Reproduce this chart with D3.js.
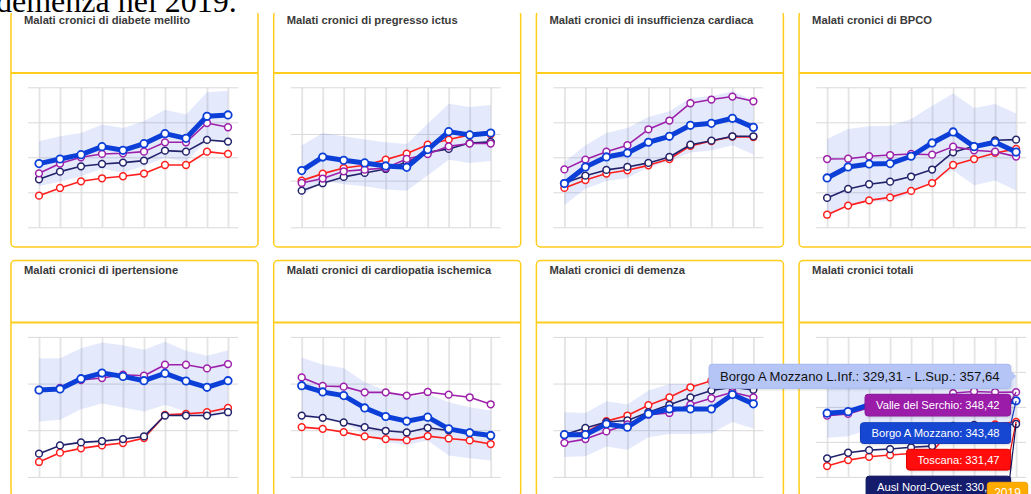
<!DOCTYPE html>
<html><head><meta charset="utf-8">
<script src="https://cdn.jsdelivr.net/npm/d3@7"></script>
<style>html,body{margin:0;padding:0;background:#fff;overflow:hidden}</style>
</head><body>
<svg id="c" width="1031" height="494"></svg>
<script>
// ---------------- DATA ----------------
const years = [2010, 2011, 2012, 2013, 2014, 2015, 2016, 2017, 2018, 2019];
const chartTitles = [
  "Malati cronici di diabete mellito",
  "Malati cronici di pregresso ictus",
  "Malati cronici di insufficienza cardiaca",
  "Malati cronici di BPCO",
  "Malati cronici di ipertensione",
  "Malati cronici di cardiopatia ischemica",
  "Malati cronici di demenza",
  "Malati cronici totali"
];
const seriesNames = ["Toscana", "Ausl Nord-Ovest", "Valle del Serchio", "Borgo A Mozzano"];
const yTicks = [
  [50, 55, 60, 65, 70],
  [10, 12, 14, 16],
  [8, 10, 12, 14, 16],
  [16, 18, 20, 22, 24],
  [200, 220, 240, 260],
  [30, 35, 40, 45],
  [8, 10, 12, 14],
  [300, 320, 340, 360, 380]
];
const borgoMozzano = [
  [59.10, 59.76, 60.38, 61.52, 61.00, 61.95, 63.38, 62.71, 65.86, 66.05],
  [12.43, 13.01, 12.87, 12.76, 12.63, 12.57, 13.33, 14.10, 13.96, 14.04],
  [10.50, 11.45, 12.02, 12.25, 12.86, 13.20, 13.83, 13.94, 14.23, 13.71],
  [18.82, 19.45, 19.62, 19.64, 20.06, 20.82, 21.45, 20.61, 20.86, 20.30],
  [237.25, 237.68, 242.08, 244.50, 243.08, 241.23, 244.36, 241.09, 238.39, 241.23],
  [39.77, 39.10, 38.71, 37.39, 36.47, 35.97, 36.40, 35.15, 34.73, 34.44],
  [9.81, 9.81, 10.27, 10.13, 10.70, 10.91, 10.91, 10.91, 11.53, 11.13],
  [336.4, 337.3, 341.2, 343.5, 343.0, 342.0, 345.0, 343.0, 341.5, 343.48]
];
const valleSerchio = [
  [57.71, 59.10, 60.00, 60.48, 60.57, 60.81, 62.14, 62.14, 64.90, 64.29],
  [11.90, 12.09, 12.40, 12.47, 12.54, 12.93, 13.14, 13.47, 13.59, 13.59],
  [11.31, 11.87, 12.32, 12.69, 13.60, 14.10, 15.09, 15.30, 15.47, 15.20],
  [19.90, 19.92, 20.06, 20.13, 20.19, 20.15, 20.61, 20.40, 20.32, 20.04],
  [237.25, 238.10, 241.52, 242.37, 243.79, 243.36, 248.06, 248.06, 246.49, 248.34],
  [40.66, 39.74, 39.67, 39.06, 39.06, 38.71, 39.10, 38.81, 38.53, 37.78],
  [9.46, 9.62, 9.95, 10.25, 10.67, 10.74, 11.10, 11.37, 11.63, 11.41],
  [335.0, 336.0, 339.5, 340.5, 342.0, 342.0, 347.9, 348.8, 348.4, 348.42]
];
const auslNordOvest = [
  [56.86, 57.95, 58.71, 59.05, 59.24, 59.52, 60.95, 60.81, 62.48, 62.24],
  [11.57, 11.89, 12.16, 12.33, 12.50, 12.79, 13.21, 13.36, 13.61, 13.66],
  [10.53, 10.95, 11.28, 11.45, 11.68, 12.02, 12.72, 12.95, 13.20, 13.20],
  [17.68, 18.19, 18.46, 18.61, 18.90, 19.30, 20.29, 20.63, 20.97, 21.01],
  [209.95, 213.50, 214.78, 215.35, 216.21, 217.34, 226.30, 226.30, 226.30, 227.72],
  [36.57, 36.33, 35.83, 35.33, 34.94, 34.76, 35.26, 34.98, 34.73, 34.37],
  [9.81, 10.10, 10.35, 10.42, 10.77, 11.09, 11.41, 11.70, 11.84, 11.73],
  [310.6, 313.8, 315.3, 315.9, 316.9, 317.6, 329.1, 329.7, 329.1, 330.22]
];
const toscana = [
  [54.52, 55.62, 56.57, 57.00, 57.29, 57.67, 58.90, 58.90, 60.81, 60.48],
  [12.00, 12.30, 12.54, 12.66, 12.90, 13.16, 13.54, 13.76, 13.96, 13.99],
  [10.25, 10.70, 11.07, 11.26, 11.54, 11.90, 12.65, 12.93, 13.18, 13.16],
  [16.72, 17.24, 17.54, 17.71, 18.08, 18.53, 19.56, 19.90, 20.25, 20.48],
  [206.40, 210.38, 212.23, 213.50, 214.50, 216.63, 226.59, 227.01, 227.72, 229.57],
  [35.33, 35.15, 34.80, 34.34, 34.05, 33.94, 34.37, 34.12, 33.91, 33.52],
  [9.78, 9.92, 10.39, 10.63, 11.07, 11.41, 11.84, 12.12, 12.38, 12.19],
  [306.2, 309.6, 311.5, 312.5, 313.4, 314.2, 328.5, 329.5, 330.0, 331.47]
];
const borgoLimSup = [
  [62.29, 63.00, 63.48, 64.67, 64.19, 65.14, 66.81, 66.10, 69.29, 69.52],
  [13.51, 14.04, 13.90, 13.76, 13.64, 13.57, 14.44, 15.30, 15.16, 15.24],
  [11.73, 12.69, 13.39, 13.68, 14.30, 14.63, 15.39, 15.49, 15.77, 15.26],
  [21.05, 21.62, 21.77, 21.81, 22.19, 22.95, 23.64, 22.82, 23.05, 22.50],
  [250.76, 250.90, 255.17, 257.58, 256.45, 254.45, 257.87, 254.03, 251.90, 254.31],
  [42.80, 42.01, 41.66, 40.13, 39.24, 38.53, 38.89, 38.00, 37.46, 37.11],
  [10.77, 10.74, 11.24, 11.10, 11.70, 11.98, 11.98, 11.95, 12.71, 12.19],
  [350.4, 351.3, 355.2, 357.5, 357.0, 356.0, 359.0, 357.0, 355.6, 357.64]
];
const borgoLimInf = [
  [55.91, 56.52, 57.28, 58.37, 57.81, 58.76, 59.95, 59.32, 62.43, 62.58],
  [11.35, 11.98, 11.84, 11.76, 11.62, 11.57, 12.22, 12.90, 12.76, 12.84],
  [9.27, 10.21, 10.65, 10.82, 11.42, 11.77, 12.27, 12.39, 12.69, 12.16],
  [16.59, 17.28, 17.47, 17.47, 17.93, 18.69, 19.26, 18.40, 18.67, 18.10],
  [223.74, 224.46, 228.99, 231.42, 229.71, 228.01, 230.85, 228.15, 224.88, 228.15],
  [36.74, 36.19, 35.76, 34.65, 33.70, 33.41, 33.91, 32.30, 32.00, 31.77],
  [8.85, 8.88, 9.30, 9.16, 9.70, 9.84, 9.84, 9.87, 10.35, 10.07],
  [322.4, 323.3, 327.2, 329.5, 329.0, 328.0, 331.0, 329.0, 327.4, 329.31]
];
const pageText = "demenza nel 2019.";
const hoverChart = 7;
const hoverYearIndex = 9;

// ---------------- LAYOUT / STYLE ----------------
const colX = [11, 273.7, 536.4, 799.1];
const rowY = [11, 260.6];
const panelW = 247, panelH = 236, headerH = 62;
const plotTop = 76.3, plotH = 140;
const gridL = 17, gridR = 227, ptL = 28, ptR = 217;
const yellow = "#ffcd1c";
const colors = ["#ff1f1f", "#22236b", "#9d20aa", "#0c3fd8"];

const svg = d3.select("#c");
const fmt = v => v.toFixed(2).replace(".", ",");

const scalesByChart = [];
const seriesData = [toscana, auslNordOvest, valleSerchio, borgoMozzano];

chartTitles.forEach((title, i) => {
  const px = colX[i % 4], py = rowY[Math.floor(i / 4)];
  const g = svg.append("g").attr("transform", `translate(${px},${py})`);
  g.append("rect").attr("x", 0).attr("y", 0).attr("width", panelW).attr("height", panelH)
    .attr("rx", 4).attr("fill", "#fff").attr("stroke", yellow).attr("stroke-width", 1.5);
  g.append("line").attr("x1", 0).attr("x2", panelW).attr("y1", headerH).attr("y2", headerH)
    .attr("stroke", yellow).attr("stroke-width", 2);
  g.append("text").attr("x", 13).attr("y", 13.3).text(title)
    .attr("font-family", "Liberation Sans, Arial, sans-serif").attr("font-size", "11.2px")
    .attr("font-weight", "bold").attr("fill", "#3a3a3a");

  const x = d3.scalePoint().domain(years).range([ptL, ptR]);
  const ticks = yTicks[i];
  const y = d3.scaleLinear().domain([ticks[0], ticks[ticks.length - 1]]).range([plotTop + plotH, plotTop]);
  scalesByChart.push({x, y, px, py});

  // grid via axes
  const gx = g.append("g").attr("transform", `translate(0,${plotTop + plotH})`)
    .call(d3.axisBottom(x).tickSize(-plotH).tickFormat(""));
  gx.select(".domain").remove();
  gx.selectAll(".tick line").attr("stroke", "#e4e4e4").attr("stroke-width", 1.8);
  const gy = g.append("g").attr("transform", `translate(${gridL},0)`)
    .call(d3.axisLeft(y).tickValues(ticks).tickSize(-(gridR - gridL)).tickFormat(""));
  gy.select(".domain").remove();
  gy.selectAll(".tick line").attr("stroke", "#d9d9d9").attr("stroke-width", 1);

  // band
  const area = d3.area().x((d, k) => x(years[k])).y0((d, k) => y(borgoLimInf[i][k])).y1(d => y(d));
  g.append("path").datum(borgoLimSup[i]).attr("d", area)
    .attr("fill", "rgb(40,90,230)").attr("fill-opacity", 0.125);

  seriesData.forEach((s, si) => {
    const vals = s[i];
    const line = d3.line().x((d, k) => x(years[k])).y(d => y(d));
    const thick = si === 3;
    g.append("path").datum(vals).attr("d", line).attr("fill", "none")
      .attr("stroke", colors[si]).attr("stroke-width", thick ? 5 : 1.6)
      .attr("stroke-linejoin", "round");
    g.selectAll(null).data(vals).enter().append("circle")
      .attr("cx", (d, k) => x(years[k])).attr("cy", d => y(d))
      .attr("r", thick ? 3.7 : 3.4).attr("fill", "#fff")
      .attr("stroke", colors[si]).attr("stroke-width", thick ? 1.8 : 1.5);
  });
});

// ---------------- PAGE TEXT ABOVE ----------------
svg.append("rect").attr("x", 0).attr("y", 0).attr("width", 1031).attr("height", 13).attr("fill", "#fff");
svg.append("text").attr("x", -4).attr("y", 12).text(pageText)
  .attr("font-family", "Liberation Serif, Times New Roman, serif").attr("font-size", "32px").attr("fill", "#000");

// ---------------- TOOLTIP (split) ----------------
const defs = svg.append("defs");
const f = defs.append("filter").attr("id", "sh").attr("x", "-10%").attr("y", "-30%").attr("width", "120%").attr("height", "160%");
f.append("feDropShadow").attr("dx", 1).attr("dy", 1).attr("stdDeviation", 1).attr("flood-color", "#000").attr("flood-opacity", 0.15);

const hs = scalesByChart[hoverChart];
const ax = hs.px + hs.x(years[hoverYearIndex]);
const ayOf = v => hs.py + hs.y(v);
const hi = hoverYearIndex, hc = hoverChart;
const tips = [
  {text: `${seriesNames[3]} L.Inf.: ${fmt(borgoLimInf[hc][hi])} - L.Sup.: ${fmt(borgoLimSup[hc][hi])}`,
   anchor: ayOf(borgoLimSup[hc][hi]), top: 364.3, h: 24, fill: "#b5c5f6", stroke: "#a6b8f2", color: "#111", size: 13.1},
  {text: `${seriesNames[2]}: ${fmt(valleSerchio[hc][hi])}`, anchor: ayOf(valleSerchio[hc][hi]),
   top: 394.3, h: 21.7, fill: "#9b1fa9", stroke: "#8a1a98", color: "#fff", size: 11.2},
  {text: `${seriesNames[3]}: ${fmt(borgoMozzano[hc][hi])}`, anchor: ayOf(borgoMozzano[hc][hi]),
   top: 422.7, h: 20.8, fill: "#1747d3", stroke: "#123cba", color: "#fff", size: 11.2},
  {text: `${seriesNames[0]}: ${fmt(toscana[hc][hi])}`, anchor: ayOf(toscana[hc][hi]),
   top: 449.3, h: 20.8, fill: "#ff0b0b", stroke: "#e00000", color: "#fff", size: 11.2},
  {text: `${seriesNames[1]}: ${fmt(auslNordOvest[hc][hi])}`, anchor: ayOf(auslNordOvest[hc][hi]),
   top: 476.2, h: 22, fill: "#171a6c", stroke: "#10125a", color: "#fff", size: 11.2}
];
const rightEdge = ax - 5.5;
const tg = svg.append("g");
tips.forEach(t => {
  const g = tg.append("g");
  const txt = g.append("text").text(t.text).attr("font-family", "Liberation Sans, Arial, sans-serif")
    .attr("font-size", t.size + "px").attr("fill", t.color);
  const w = txt.node().getComputedTextLength();
  const pad = 11;
  const bx = rightEdge - w - 2 * pad;
  const mid = t.top + t.h / 2;
  const inside = t.anchor > t.top + 6 && t.anchor < t.top + t.h - 6;
  if (!inside) {
    g.insert("line", "text").attr("x1", rightEdge - 2).attr("y1", mid).attr("x2", ax).attr("y2", t.anchor)
      .attr("stroke", t.stroke).attr("stroke-width", 1.2);
  }
  g.insert("rect", "text").attr("x", bx).attr("y", t.top).attr("width", rightEdge - bx).attr("height", t.h)
    .attr("rx", 3).attr("fill", t.fill).attr("stroke", t.stroke).attr("stroke-width", 1).attr("filter", "url(#sh)");
  if (inside) {
    g.insert("path", "text").attr("d", `M${rightEdge - 0.5},${t.anchor - 6}L${ax},${t.anchor}L${rightEdge - 0.5},${t.anchor + 6}Z`)
      .attr("fill", t.fill).attr("stroke", "none");
  }
  txt.attr("x", bx + pad).attr("y", mid + t.size * 0.36);
});
// x header
const hg = svg.append("g");
const ht = hg.append("text").text(String(years[hoverYearIndex]))
  .attr("font-family", "Liberation Sans, Arial, sans-serif").attr("font-size", "12px").attr("fill", "#fff");
const hw = ht.node().getComputedTextLength();
const hbx = ax + 11 - hw - 14 - 3;
hg.insert("rect", "text").attr("x", 987.3).attr("y", 482.3).attr("width", 40.4).attr("height", 24)
  .attr("rx", 3).attr("fill", "#ffab00").attr("stroke", "#f0a000");
ht.attr("x", 987.3 + (40.4 - hw) / 2).attr("y", 497);
</script>
</body></html>
